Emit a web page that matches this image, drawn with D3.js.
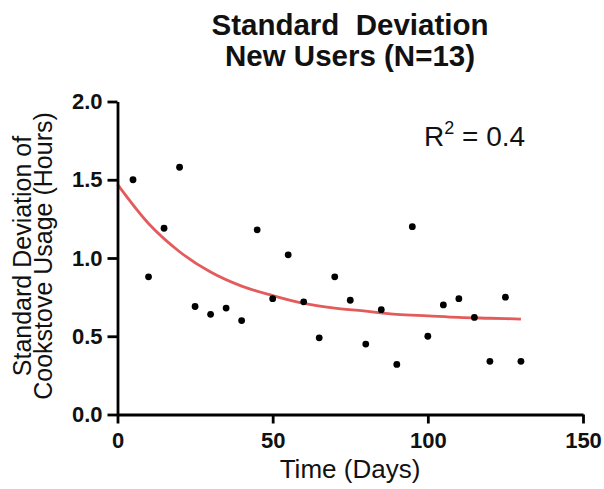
<!DOCTYPE html>
<html>
<head>
<meta charset="utf-8">
<script src="https://cdn.jsdelivr.net/npm/d3@7"></script>
<style>
  html, body { margin: 0; padding: 0; background: #ffffff; }
  svg { display: block; font-family: "Liberation Sans", Arial, Helvetica, sans-serif; }
  .pre { white-space: pre; }
</style>
</head>
<body>
<svg id="chart" width="604" height="489"></svg>
<script>
// ---- Data ----
const days = [5, 10, 15, 20, 25, 30, 35, 40, 45, 50, 55, 60, 65, 70, 75, 80, 85, 90, 95, 100, 105, 110, 115, 120, 125, 130];
const sdValues = [1.50, 0.88, 1.19, 1.58, 0.69, 0.64, 0.68, 0.60, 1.18, 0.74, 1.02, 0.72, 0.49, 0.88, 0.73, 0.45, 0.67, 0.32, 1.20, 0.50, 0.70, 0.74, 0.62, 0.34, 0.75, 0.34];
const fitDays = [0, 10, 20, 30, 40, 50, 60, 70, 80, 90, 100, 110, 120, 130];
const fitValues = [1.47, 1.22, 1.04, 0.91, 0.82, 0.76, 0.71, 0.68, 0.66, 0.64, 0.63, 0.62, 0.615, 0.61];
const xTicks = [0, 50, 100, 150];
const yTicks = [0.0, 0.5, 1.0, 1.5, 2.0];
const titleLines = ["Standard  Deviation", "New Users (N=13)"];
const xTitle = "Time (Days)";
const yTitleLines = ["Standard Deviation of", "Cookstove Usage (Hours)"];
const r2Label = { base: "R", sup: "2", rest: " = 0.4" };

// ---- Drawing ----
const svg = d3.select("#chart");
const x = d3.scaleLinear().domain([0, 150]).range([117.5, 583]);
const y = d3.scaleLinear().domain([0, 2]).range([414.5, 101.5]);

// Title
svg.append("g").selectAll("text").data(titleLines).join("text")
  .attr("class", "pre")
  .attr("x", 350).attr("y", (d, i) => 35 + i * 31)
  .attr("text-anchor", "middle")
  .attr("font-weight", "bold").attr("font-size", 29.5)
  .attr("fill", "#111")
  .text(d => d);

// Fit curve
const line = d3.line().x((d, i) => x(fitDays[i])).y(d => y(d)).curve(d3.curveMonotoneX);
svg.append("path").datum(fitValues)
  .attr("d", line)
  .attr("fill", "none").attr("stroke", "#e35b5b").attr("stroke-width", 2.8);

// Points
svg.append("g").selectAll("circle").data(sdValues).join("circle")
  .attr("cx", (d, i) => x(days[i])).attr("cy", d => y(d))
  .attr("r", 3.4).attr("fill", "#000");

// Axes
const xAxis = d3.axisBottom(x).tickValues(xTicks).tickFormat(d3.format("d")).tickSize(9).tickPadding(9).tickSizeOuter(0);
const yAxis = d3.axisLeft(y).tickValues(yTicks).tickFormat(d3.format(".1f")).tickSize(10).tickPadding(5).tickSizeOuter(0);

const gx = svg.append("g").attr("transform", `translate(0,${y(0)})`).call(xAxis);
const gy = svg.append("g").attr("transform", `translate(${x(0)},0)`).call(yAxis);
[gx, gy].forEach(g => {
  g.select(".domain").attr("stroke", "#000").attr("stroke-width", 2.8);
  g.selectAll(".tick line").attr("stroke", "#000").attr("stroke-width", 2.8);
  g.selectAll(".tick text").attr("fill", "#111").attr("font-size", 22).attr("font-weight", "bold")
    .attr("font-family", "\"Liberation Sans\", Arial, sans-serif");
});

// X title
svg.append("text").attr("x", 350).attr("y", 478)
  .attr("text-anchor", "middle").attr("font-size", 26).attr("fill", "#111")
  .text(xTitle);

// Y title
svg.append("g").attr("transform", "translate(0,256) rotate(-90)")
  .selectAll("text").data(yTitleLines).join("text")
  .attr("x", 0).attr("y", (d, i) => 31 + i * 21)
  .attr("text-anchor", "middle").attr("font-size", 25).attr("fill", "#111")
  .text(d => d);

// R^2 annotation
const r2 = svg.append("text").attr("x", 424).attr("y", 146).attr("font-size", 28).attr("fill", "#111");
r2.append("tspan").text(r2Label.base);
r2.append("tspan").attr("font-size", 18).attr("dy", -12).text(r2Label.sup);
r2.append("tspan").attr("dy", 12).text(r2Label.rest);
</script>
</body>
</html>
